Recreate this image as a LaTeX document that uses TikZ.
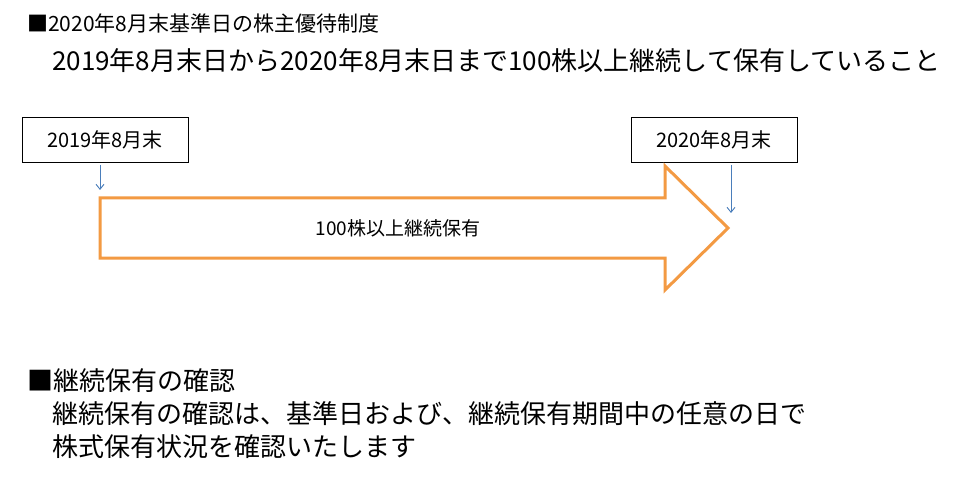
\documentclass[tikz,border=0pt]{standalone}
\usepackage{fontspec}
\usetikzlibrary{arrows.meta}
\setmainfont{Noto Sans CJK JP}
\definecolor{orng}{HTML}{F39A43}
\definecolor{blu}{HTML}{4A7EBB}
\begin{document}
\begin{tikzpicture}[x=1pt,y=-1pt,
  big/.style={anchor=west,inner sep=0pt,font=\fontsize{21}{24}\selectfont},
  bigger/.style={anchor=west,inner sep=0pt,font=\fontsize{26}{30}\selectfont},
  datebox/.style={draw=black,line width=0.8pt,minimum width=166pt,minimum height=45pt,font=\fontsize{20}{22}\selectfont,inner sep=0pt},
  barrow/.style={draw=blu,line width=0.9pt,-{Straight Barb[length=5pt,width=8pt]}}]
\useasboundingbox (0,0) rectangle (961,481);
\fill[white] (0,0) rectangle (961,481);
\node[big] (t1) at (27,24) {■2020年8月末基準日の株主優待制度};
\node[bigger] (t2) at (52,61) {2019年8月末日から2020年8月末日まで100株以上継続して保有していること};
\node[datebox] (b1) at (105,139.5) {2019年8月末};
\node[datebox] (b2) at (714,139.5) {2020年8月末};
\draw[orng,line width=3pt,line join=miter,fill=white]
  (100,198) -- (665,198) -- (665,166) -- (728,228) -- (665,290) -- (665,258) -- (100,258) -- cycle;
\node[font=\fontsize{19}{21}\selectfont] (lbl) at (398,228) {100株以上継続保有};
\coordinate (a1) at (100,190);
\coordinate (a2) at (731,213);
\draw[barrow] (100,165) -- (a1);
\draw[barrow] (731,165) -- (a2);
\node[bigger] (t3) at (27,381) {■継続保有の確認};
\node[bigger] (t4) at (52,414) {継続保有の確認は、基準日および、継続保有期間中の任意の日で};
\node[bigger] (t5) at (52,447) {株式保有状況を確認いたします};
\end{tikzpicture}
\end{document}
